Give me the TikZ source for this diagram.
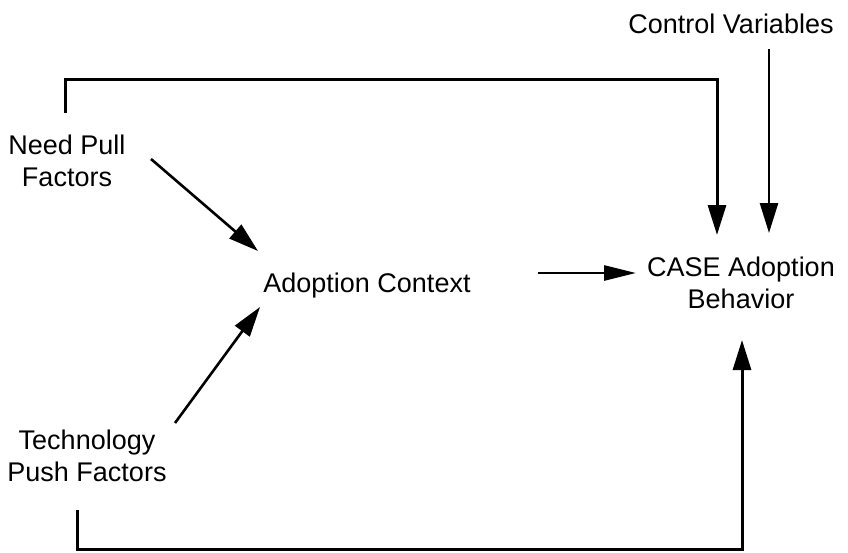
\documentclass[tikz,border=0pt]{standalone}
\usepackage{fontspec}
\setmainfont{Liberation Sans}
\usetikzlibrary{arrows.meta,calc}
\begin{document}
\begin{tikzpicture}[x=1pt,y=-1pt,
  lbl/.style={inner sep=0pt, align=center, font=\fontsize{27}{32}\selectfont},
  link/.style={line width=2.6pt, -{Triangle[length=30pt,width=18pt]}},
  heavy/.style={link, line width=3pt},
]
\useasboundingbox (0,0) rectangle (848,552);

% factors and outcome
\node[lbl, anchor=base] (ctrl) at (731,33) {Control Variables};
\node[lbl] (need) at (67,161) {Need Pull\\Factors};
\node[lbl, anchor=base] (ctx) at (367,292) {Adoption Context};
\node[lbl] (case) at (741,283) {CASE Adoption\\Behavior};
\node[lbl] (push) at (87,456) {Technology\\Push Factors};

% connector end points
\coordinate (needUp) at (65,113);
\coordinate (topR) at (717,79);
\coordinate (caseTipA) at (717,235);
\coordinate (ctrlFoot) at (769,49);
\coordinate (caseTipB) at (769,233);
\coordinate (needOut) at (151,159);
\coordinate (ctxTipA) at (258,251);
\coordinate (pushOut) at (175,423);
\coordinate (ctxTipB) at (260,307);
\coordinate (ctxOut) at (538,273);
\coordinate (caseIn) at (636,273);
\coordinate (pushDown) at (77,510);
\coordinate (botR) at (742,549);
\coordinate (caseTipC) at (742,340);

% direct effect of need pull on adoption behavior
\draw[heavy] (needUp) |- (topR) -- (caseTipA);
% control variables
\draw[link] (ctrlFoot) -- (caseTipB);
% factors into the adoption context
\draw[link] (needOut) -- (ctxTipA);
\draw[link] (pushOut) -- (ctxTipB);
% context into adoption behavior
\draw[link, -{Triangle[length=32pt,width=15pt]}] (ctxOut) -- (caseIn);
% direct effect of technology push on adoption behavior
\draw[heavy] (pushDown) |- (botR) -- (caseTipC);
\end{tikzpicture}
\end{document}
